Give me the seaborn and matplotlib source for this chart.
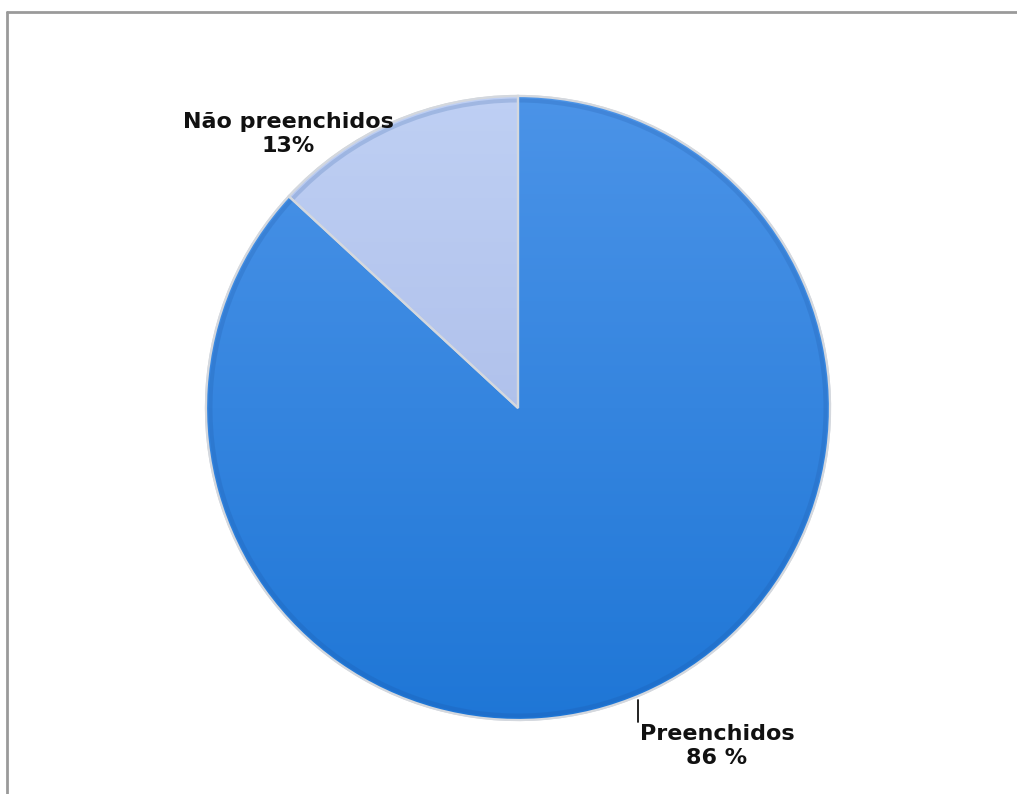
import numpy as np
import matplotlib
matplotlib.use("Agg")
import matplotlib.pyplot as plt
import seaborn as sns
from matplotlib.lines import Line2D

# Form completion shares
labels = ["Não preenchidos", "Preenchidos"]
values = [13, 86]
label_texts = ["Não preenchidos\n13%", "Preenchidos\n86 %"]
top_colors = ["#bfd0f4", "#4c94e8"]
bottom_colors = ["#a2b3e3", "#1e76d6"]
explode = [0.015, 0.0]

sns.set_theme(style="white")
plt.rcParams["font.family"] = ["DejaVu Sans"]

W, H = 1017, 794
fig = plt.figure(figsize=(W / 100, H / 100), dpi=100)
ax = fig.add_axes([0, 0, 1, 1])

cx, cy, r = 518, H - 408, 312
wedges, _ = ax.pie(values, startangle=90, counterclock=True, explode=explode,
                   center=(cx, cy), radius=r, colors=top_colors,
                   wedgeprops=dict(edgecolor="#d4d8de", linewidth=1.6))


def gradient(bottom, top):
    a = np.array(matplotlib.colors.to_rgb(bottom))
    b = np.array(matplotlib.colors.to_rgb(top))
    t = np.linspace(0, 1, 256)[:, None]
    return (a * (1 - t) + b * t)[:, None, :]


# vertical shading inside each slice: lighter at the top, deeper at the bottom
for w, c_top, c_bot in zip(wedges, top_colors, bottom_colors):
    im = ax.imshow(gradient(c_bot, c_top), origin="lower", aspect="auto",
                   extent=(cx - r - 10, cx + r + 10, cy - r - 10, cy + r + 10),
                   zorder=w.get_zorder() + 0.1)
    im.set_clip_path(w)
    # soft bevel along the rim
    rim = matplotlib.patches.Wedge(w.center, w.r - 2.5, w.theta1, w.theta2, width=4,
                                   facecolor="#1a4f9a", edgecolor="none", alpha=0.18,
                                   zorder=w.get_zorder() + 0.15)
    ax.add_patch(rim)
    edge = matplotlib.patches.Wedge(w.center, w.r, w.theta1, w.theta2, fill=False,
                                    edgecolor="#d4d8de", linewidth=1.6,
                                    zorder=w.get_zorder() + 0.2)
    ax.add_patch(edge)

ax.set_xlim(0, W)
ax.set_ylim(0, H)
ax.set_aspect("equal")
ax.axis("off")

# slice labels
ax.text(288, H - 134, label_texts[0], ha="center", va="center", fontsize=16,
        fontweight="bold", color="#111111", linespacing=1.2, zorder=10)
ax.text(717, H - 746, label_texts[1], ha="center", va="center", fontsize=16,
        fontweight="bold", color="#111111", linespacing=1.25, zorder=10)
ax.plot([638, 638], [H - 700, H - 722], color="#111111", lw=1.3, zorder=10)

# chart frame (top and left edges)
fig.add_artist(Line2D([7 / W, 1.0], [1 - 12 / H, 1 - 12 / H], color="#9a9a9a", lw=2.0))
fig.add_artist(Line2D([7 / W, 7 / W], [0.0, 1 - 12 / H], color="#9a9a9a", lw=2.0))

fig.savefig("out.png", dpi=100, facecolor="white")
